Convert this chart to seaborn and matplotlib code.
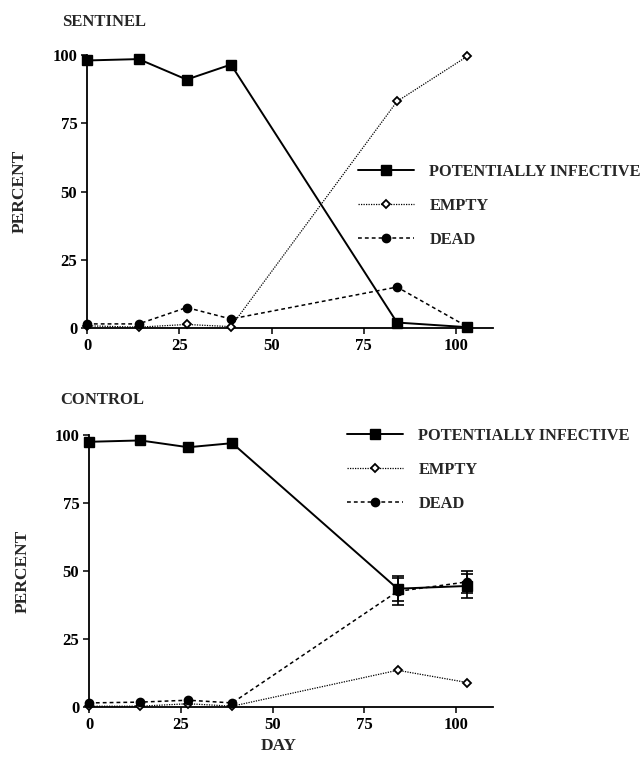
import numpy as np
import pandas as pd
import matplotlib
matplotlib.use("Agg")
import matplotlib.pyplot as plt
import seaborn as sns

# ---- data ----
days = [0, 14, 27, 39, 84, 103]
series_names = ["POTENTIALLY INFECTIVE", "EMPTY", "DEAD"]

sent_infective = [98, 98.5, 91, 96.5, 2, 0.3]
sent_empty = [0.8, 0.3, 1.3, 0.5, 83, 99.5]
sent_dead = [1.5, 1.5, 7.5, 3.3, 15, 0.5]

ctrl_infective = [97.5, 98, 95.5, 97, 43.5, 44.5]
ctrl_empty = [0.3, 0.3, 1.2, 0.3, 13.5, 9]
ctrl_dead = [1.5, 1.8, 2.5, 1.5, 42.5, 46]
ctrl_infective_err = [0, 0, 0, 0, 4.5, 4.5]
ctrl_dead_err = [0, 0, 0, 0, 5.0, 4.0]

x_ticks = [0, 25, 50, 75, 100]
y_ticks = [0, 25, 50, 75, 100]

# ---- style ----
sns.set_theme(style="ticks")
serif = ["Liberation Serif", "DejaVu Serif"]
plt.rcParams["font.family"] = serif
plt.rcParams["font.weight"] = "bold"

styles = {
    "POTENTIALLY INFECTIVE": dict(ls="-", lw=1.4, marker="s", ms=6.5, mfc="black", mec="black", mew=1.0),
    "EMPTY": dict(ls=(0, (1, 1)), lw=0.9, marker="D", ms=4.5, mfc="white", mec="black", mew=1.3),
    "DEAD": dict(ls=(0, (2.5, 2)), lw=1.1, marker="o", ms=6, mfc="black", mec="black", mew=1.0),
}

fig = plt.figure(figsize=(6.43, 7.58), dpi=100)
ax_top = fig.add_axes([87 / 643, 1 - 328 / 758, 406 / 643, 273 / 758])
ax_bot = fig.add_axes([89 / 643, 1 - 707 / 758, 404 / 643, 272 / 758])


def draw(ax, vals, errs, legend_anchor):
    for name in series_names:
        df = pd.DataFrame({"day": days, "pct": vals[name]})
        st = styles[name]
        sns.lineplot(data=df, x="day", y="pct", ax=ax, color="black",
                     linestyle=st["ls"], linewidth=st["lw"], marker=st["marker"],
                     markersize=st["ms"], markerfacecolor=st["mfc"],
                     markeredgecolor=st["mec"], markeredgewidth=st["mew"],
                     label=name, clip_on=False, zorder=3)
        if name in errs:
            e = np.array(errs[name])
            mask = e > 0
            ax.errorbar(np.array(days)[mask], np.array(vals[name])[mask],
                        yerr=e[mask], fmt="none", ecolor="black", elinewidth=1.2,
                        capsize=4, capthick=1.2, zorder=2, clip_on=False)
    ax.set_xlim(0, 110)
    ax.set_ylim(0, 100)
    ax.set_xticks(x_ticks)
    ax.set_yticks(y_ticks)
    ax.set_xticklabels([str(t) for t in x_ticks])
    ax.set_yticklabels([str(t) for t in y_ticks])
    sns.despine(ax=ax)
    for s in ["left", "bottom"]:
        ax.spines[s].set_linewidth(1.3)
        ax.spines[s].set_color("black")
    ax.tick_params(axis="both", direction="out", length=4, width=1.1, colors="black",
                   labelsize=12, pad=3)
    for lab in ax.get_xticklabels() + ax.get_yticklabels():
        lab.set_fontweight("bold")
    ax.set_ylabel("PERCENT", fontsize=12.5, fontweight="bold")
    ax.yaxis.set_label_coords(-0.145, 0.5)
    ax.set_xlabel("")
    ax.legend(loc="upper left", bbox_to_anchor=legend_anchor, frameon=False,
              handlelength=3.4, handletextpad=0.95, labelspacing=1.1,
              prop=dict(family=serif, weight="bold", size=11.8), borderaxespad=0,
              borderpad=0)


draw(ax_top,
     {"POTENTIALLY INFECTIVE": sent_infective, "EMPTY": sent_empty, "DEAD": sent_dead},
     {}, ((358 - 87) / 406, (328 - 164) / 273))
draw(ax_bot,
     {"POTENTIALLY INFECTIVE": ctrl_infective, "EMPTY": ctrl_empty, "DEAD": ctrl_dead},
     {"POTENTIALLY INFECTIVE": ctrl_infective_err, "DEAD": ctrl_dead_err},
     ((347 - 89) / 404, (707 - 428) / 272))
ax_bot.set_xlabel("DAY", fontsize=12.5, fontweight="bold")
ax_bot.xaxis.set_label_coords(0.47, -0.115)

fig.text(62 / 643, 1 - 22 / 758, "SENTINEL", fontsize=12, fontweight="bold",
         family=serif, va="center", ha="left")
fig.text(60 / 643, 1 - 400 / 758, "CONTROL", fontsize=12, fontweight="bold",
         family=serif, va="center", ha="left")

fig.savefig("out.png", dpi=100, facecolor="white")
